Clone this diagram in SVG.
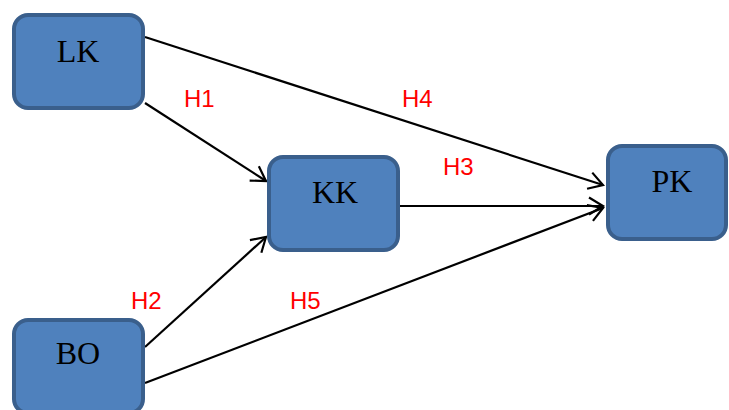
<svg xmlns="http://www.w3.org/2000/svg" width="729" height="410" viewBox="0 0 729 410">
  <style>
    .box { fill: #4f81bd; stroke: #3a5f8c; stroke-width: 4; }
    .name { font-family: "Liberation Serif", "Times New Roman", serif; font-size: 32px; fill: #000; text-anchor: middle; }
    .edge { stroke: #000; stroke-width: 2.2; fill: none; marker-end: url(#open); }
    .lbl { font-family: "Liberation Sans", Arial, sans-serif; font-size: 24px; fill: #ff0000; }
  </style>
  <defs>
    <marker id="open" markerUnits="userSpaceOnUse" markerWidth="24" markerHeight="24" viewBox="-20 -12 24 24" refX="0" refY="0" orient="auto">
      <path d="M -14 -8.5 L 0 0 L -14 8.5" fill="none" stroke="#000" stroke-width="2.2"/>
    </marker>
  </defs>

  <!-- connectors -->
  <g id="connectors">
    <line class="edge" x1="145" y1="37" x2="603" y2="185"/>
    <line class="edge" x1="145" y1="103" x2="266" y2="181"/>
    <line class="edge" x1="400" y1="206" x2="603" y2="206"/>
    <line class="edge" x1="145" y1="347" x2="266" y2="237"/>
    <line class="edge" x1="145" y1="383" x2="603" y2="208"/>
  </g>

  <!-- hypothesis labels -->
  <g id="labels">
    <text class="lbl" x="184" y="107">H1</text>
    <text class="lbl" x="131" y="309">H2</text>
    <text class="lbl" x="443" y="175">H3</text>
    <text class="lbl" x="402" y="107">H4</text>
    <text class="lbl" x="290" y="309">H5</text>
  </g>

  <g id="LK">
    <rect class="box" x="14" y="15" width="129" height="93" rx="14"/>
    <text class="name" x="78" y="62">LK</text>
  </g>
  <g id="KK">
    <rect class="box" x="269" y="157" width="129" height="93" rx="14"/>
    <text class="name" x="335" y="203">KK</text>
  </g>
  <g id="PK">
    <rect class="box" x="608" y="146" width="118" height="93" rx="14"/>
    <text class="name" x="672" y="192">PK</text>
  </g>
  <g id="BO">
    <rect class="box" x="14" y="320" width="129" height="93" rx="14"/>
    <text class="name" x="78" y="364">BO</text>
  </g>
</svg>
